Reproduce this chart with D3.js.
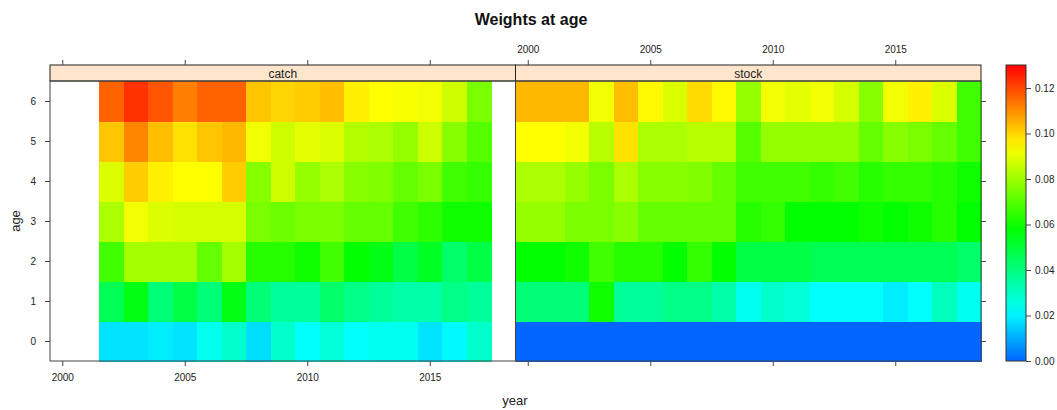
<!DOCTYPE html>
<html><head><meta charset="utf-8">
<script src="https://cdn.jsdelivr.net/npm/d3@7"></script>
<style>body{margin:0;background:#fff}svg{display:block;font-family:"Liberation Sans",Arial,sans-serif}</style>
</head><body><div id="chart"></div>
<script>
const ages = [0,1,2,3,4,5,6];
const catchYears = d3.range(2002, 2018);
const stockYears = d3.range(2000, 2019);
const yearTicks = [2000, 2005, 2010, 2015];
const colorTicks = [0, 0.02, 0.04, 0.06, 0.08, 0.10, 0.12];
const panels = ["catch", "stock"];

// catch weights, rows = age 0..6, columns = 2002..2017
const catchAge0 = [0.018,0.018,0.019,0.018,0.024,0.029,0.017,0.029,0.022,0.027,0.022,0.024,0.024,0.018,0.021,0.029];
const catchAge1 = [0.046,0.055,0.041,0.048,0.041,0.055,0.041,0.036,0.036,0.043,0.039,0.036,0.034,0.034,0.039,0.036];
const catchAge2 = [0.067,0.081,0.081,0.081,0.072,0.081,0.063,0.063,0.060,0.067,0.058,0.055,0.048,0.053,0.043,0.048];
const catchAge3 = [0.082,0.092,0.089,0.088,0.088,0.088,0.075,0.073,0.075,0.075,0.072,0.072,0.067,0.064,0.060,0.060];
const catchAge4 = [0.089,0.101,0.096,0.094,0.094,0.101,0.077,0.087,0.079,0.082,0.077,0.076,0.072,0.075,0.067,0.065];
const catchAge5 = [0.102,0.111,0.103,0.098,0.102,0.104,0.092,0.087,0.090,0.089,0.083,0.082,0.079,0.087,0.077,0.070];
const catchAge6 = [0.116,0.123,0.118,0.112,0.116,0.116,0.102,0.100,0.101,0.103,0.096,0.094,0.093,0.092,0.087,0.075];

// stock weights, rows = age 0..6, columns = 2000..2018
const stockAge0 = [0.000,0.000,0.000,0.000,0.000,0.000,0.000,0.000,0.000,0.000,0.000,0.000,0.000,0.000,0.000,0.000,0.000,0.000,0.000];
const stockAge1 = [0.041,0.041,0.041,0.060,0.036,0.036,0.039,0.039,0.034,0.024,0.029,0.027,0.022,0.022,0.022,0.019,0.022,0.031,0.024];
const stockAge2 = [0.058,0.058,0.060,0.067,0.063,0.063,0.058,0.065,0.058,0.048,0.048,0.048,0.046,0.046,0.046,0.046,0.046,0.046,0.043];
const stockAge3 = [0.079,0.079,0.075,0.075,0.077,0.072,0.072,0.072,0.072,0.063,0.065,0.058,0.058,0.058,0.060,0.058,0.060,0.063,0.058];
const stockAge4 = [0.082,0.082,0.079,0.075,0.082,0.077,0.077,0.076,0.072,0.067,0.067,0.067,0.065,0.067,0.063,0.065,0.065,0.063,0.060];
const stockAge5 = [0.094,0.094,0.092,0.084,0.098,0.082,0.082,0.084,0.084,0.070,0.079,0.079,0.079,0.079,0.072,0.077,0.075,0.072,0.067];
const stockAge6 = [0.104,0.104,0.104,0.092,0.103,0.095,0.089,0.099,0.095,0.079,0.092,0.090,0.092,0.088,0.077,0.092,0.096,0.089,0.067];

const catchRows = [catchAge0,catchAge1,catchAge2,catchAge3,catchAge4,catchAge5,catchAge6];
const stockRows = [stockAge0,stockAge1,stockAge2,stockAge3,stockAge4,stockAge5,stockAge6];

function cells(rows, years, panel) {
  const out = [];
  rows.forEach((r, a) => r.forEach((v, i) => out.push({panel, age: ages[a], year: years[i], value: v})));
  return out;
}
const data = cells(catchRows, catchYears, "catch").concat(cells(stockRows, stockYears, "stock"));

const W = 1057, H = 410;
const svg = d3.select("#chart").append("svg").attr("width", W).attr("height", H);

const stripTop = 65, stripH = 16, panelTop = stripTop + stripH, panelBottom = 361;
const panelX = {catch: [50, 515.5], stock: [515.5, 981]};
const axisCol = "#444";

const y = d3.scaleLinear().domain([-0.5, 6.5]).range([panelBottom, panelTop]);
const vmax = 0.1301;
const hue = d3.scaleLinear().domain([0, vmax]).range([216, 0]).clamp(true);
const color = v => d3.hsl(hue(v), 1, 0.5).formatHex();

const xs = {};
panels.forEach(p => {
  xs[p] = d3.scaleLinear().domain([1999.5, 2018.5]).range(panelX[p]);
});

// cells
panels.forEach(p => {
  const x = xs[p];
  svg.append("g").attr("shape-rendering", "crispEdges")
    .selectAll("rect").data(data.filter(d => d.panel === p)).join("rect")
    .attr("x", d => x(d.year - 0.5))
    .attr("width", d => x(d.year + 0.5) - x(d.year - 0.5) + 0.5)
    .attr("y", d => y(d.age + 0.5))
    .attr("height", d => y(d.age - 0.5) - y(d.age + 0.5) + 0.5)
    .attr("fill", d => color(d.value));
});

// strips and borders
panels.forEach(p => {
  const [x0, x1] = panelX[p];
  svg.append("rect").attr("x", x0).attr("y", stripTop).attr("width", x1 - x0).attr("height", stripH)
    .attr("fill", "#FFE5CC").attr("stroke", "#222").attr("stroke-width", 1);
  svg.append("text").attr("x", (x0 + x1) / 2).attr("y", stripTop + 12.5).attr("text-anchor", "middle")
    .attr("font-size", 12).attr("fill", "#222").text(p);
  svg.append("rect").attr("x", x0).attr("y", panelTop).attr("width", x1 - x0).attr("height", panelBottom - panelTop)
    .attr("fill", "none").attr("stroke", axisCol).attr("stroke-width", 1);
});

// axes
function styleAxis(g, showLabels) {
  g.select(".domain").remove();
  g.selectAll(".tick line").attr("stroke", axisCol);
  g.selectAll(".tick text").attr("fill", "#222").attr("font-size", 10)
    .style("display", showLabels ? null : "none");
  g.attr("font-family", null);
}
svg.append("g").attr("transform", `translate(0,${panelBottom})`)
  .call(d3.axisBottom(xs.catch).tickValues(yearTicks).tickFormat(d3.format("d")).tickSize(5).tickPadding(8))
  .call(g => styleAxis(g, true));
svg.append("g").attr("transform", `translate(0,${panelBottom})`)
  .call(d3.axisBottom(xs.stock).tickValues(yearTicks).tickSize(5))
  .call(g => styleAxis(g, false));
svg.append("g").attr("transform", `translate(0,${stripTop})`)
  .call(d3.axisTop(xs.catch).tickValues(yearTicks).tickSize(5))
  .call(g => styleAxis(g, false));
svg.append("g").attr("transform", `translate(0,${stripTop})`)
  .call(d3.axisTop(xs.stock).tickValues(yearTicks).tickFormat(d3.format("d")).tickSize(5).tickPadding(7))
  .call(g => styleAxis(g, true));
svg.append("g").attr("transform", `translate(${panelX.catch[0]},0)`)
  .call(d3.axisLeft(y).tickValues(ages).tickFormat(d3.format("d")).tickSize(5).tickPadding(9))
  .call(g => styleAxis(g, true));
svg.append("g").attr("transform", `translate(${panelX.stock[1]},0)`)
  .call(d3.axisRight(y).tickValues(ages).tickSize(5))
  .call(g => styleAxis(g, false));

// axis titles
svg.append("text").attr("x", 515).attr("y", 405).attr("text-anchor", "middle")
  .attr("font-size", 13).attr("fill", "#222").text("year");
svg.append("text").attr("transform", `translate(20,${(panelTop + panelBottom) / 2}) rotate(-90)`)
  .attr("text-anchor", "middle").attr("font-size", 13).attr("fill", "#222").text("age");
// title
svg.append("text").attr("x", 531).attr("y", 25).attr("text-anchor", "middle")
  .attr("font-size", 16).attr("font-weight", "bold").attr("fill", "#111").text("Weights at age");

// colour key
const cbX = 1006, cbW = 20;
const cy = d3.scaleLinear().domain([0, vmax]).range([panelBottom, stripTop]);
const defs = svg.append("defs");
const grad = defs.append("linearGradient").attr("id", "cb").attr("x1", 0).attr("x2", 0).attr("y1", 1).attr("y2", 0);
d3.range(0, 1.0001, 0.05).forEach(t => {
  grad.append("stop").attr("offset", t).attr("stop-color", color(t * vmax));
});
svg.append("rect").attr("x", cbX).attr("y", stripTop).attr("width", cbW).attr("height", panelBottom - stripTop)
  .attr("fill", "url(#cb)").attr("stroke", "#333").attr("stroke-width", 1);
svg.append("g").attr("transform", `translate(${cbX + cbW},0)`)
  .call(d3.axisRight(cy).tickValues(colorTicks).tickFormat(d3.format(".2f")).tickSize(5).tickPadding(4))
  .call(g => styleAxis(g, true));
</script></body></html>
